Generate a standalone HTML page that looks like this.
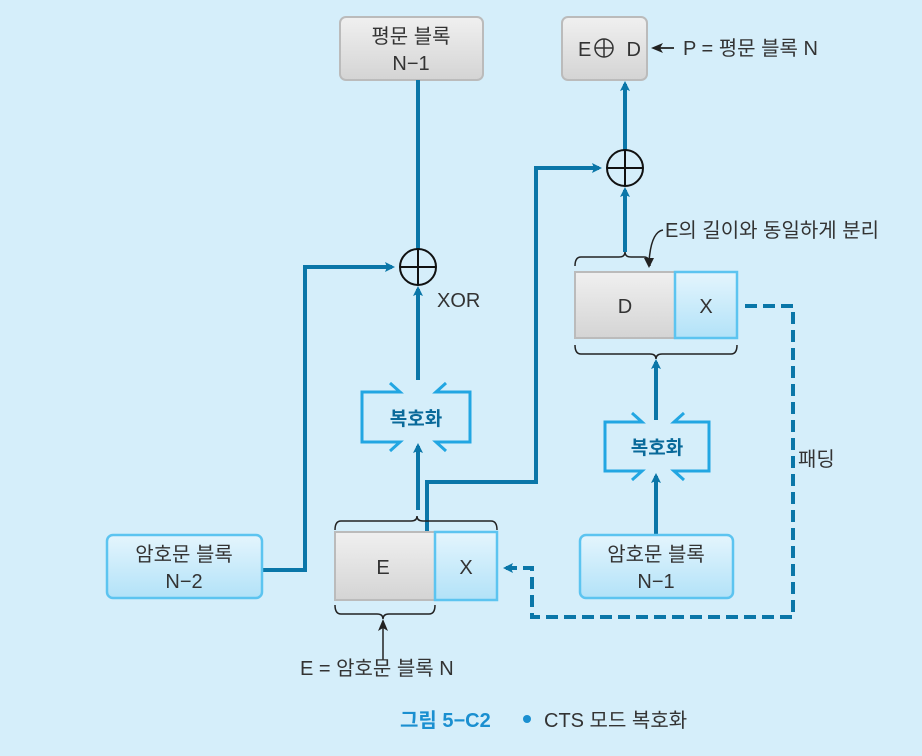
<!DOCTYPE html>
<html><head><meta charset="utf-8"><style>
body{margin:0;background:#d5eefa;}
svg{display:block;font-family:"Liberation Sans","Noto Sans CJK KR",sans-serif;}
</style></head><body>
<svg width="922" height="756" viewBox="0 0 922 756" xmlns="http://www.w3.org/2000/svg">
<defs>
<linearGradient id="g" x1="0" y1="0" x2="0" y2="1"><stop offset="0" stop-color="#f0f0f0"/><stop offset="1" stop-color="#d4d4d4"/></linearGradient>
<linearGradient id="b" x1="0" y1="0" x2="0" y2="1"><stop offset="0" stop-color="#e4f5fd"/><stop offset="1" stop-color="#b2e2f8"/></linearGradient>
<marker id="a" markerWidth="10" markerHeight="10" refX="7" refY="5" orient="auto" markerUnits="userSpaceOnUse"><path d="M0,0 L10,5 L0,10 L2,5z" fill="#0a76a8"/></marker>
<marker id="k" markerWidth="12" markerHeight="10" refX="9" refY="5" orient="auto" markerUnits="userSpaceOnUse"><path d="M0,0 L12,5 L0,10 L3,5z" fill="#222"/></marker>
</defs>
<rect width="922" height="756" fill="#d5eefa"/>
<rect x="340" y="17" width="143" height="63" rx="6" fill="url(#g)" stroke="#bbb" stroke-width="2"/>
<text x="411" y="43" font-size="20" text-anchor="middle" fill="#333">평문 블록</text>
<text x="411" y="70" font-size="20" text-anchor="middle" fill="#333">N−1</text>
<rect x="562" y="17" width="85" height="63" rx="6" fill="url(#g)" stroke="#bbb" stroke-width="2"/>
<text x="578" y="56" font-size="20" fill="#333">E</text>
<text x="641" y="56" font-size="20" text-anchor="end" fill="#333">D</text>
<g stroke="#333" stroke-width="1.5" fill="none"><circle cx="604" cy="48" r="9"/><line x1="595" y1="48" x2="613" y2="48"/><line x1="604" y1="39" x2="604" y2="57"/></g>
<line x1="674" y1="48" x2="654" y2="48" stroke="#222" stroke-width="1.8" marker-end="url(#k)"/>
<text x="683" y="55" font-size="20" fill="#333">P = 평문 블록 N</text>
<g stroke="#0a76a8" stroke-width="4" fill="none">
<line x1="418" y1="80" x2="418" y2="249"/>
<polyline points="262,570 305,570 305,267 392,267" marker-end="url(#a)"/>
<line x1="418" y1="380" x2="418" y2="289" marker-end="url(#a)"/>
<line x1="418" y1="510" x2="418" y2="446" marker-end="url(#a)"/>
<polyline points="427,532 427,482 536,482 536,168 599,168" marker-end="url(#a)"/>
<line x1="625" y1="150" x2="625" y2="84" marker-end="url(#a)"/>
<line x1="625" y1="252" x2="625" y2="190" marker-end="url(#a)"/>
<line x1="656" y1="420" x2="656" y2="362" marker-end="url(#a)"/>
<line x1="656" y1="535" x2="656" y2="476" marker-end="url(#a)"/>
<polyline points="745,306 793,306 793,617 532,617 532,568 506,568" stroke-dasharray="12,6" marker-end="url(#a)"/>
</g>
<g stroke="#111" stroke-width="2" fill="none">
<circle cx="418" cy="267" r="18"/><line x1="400" y1="267" x2="436" y2="267"/><line x1="418" y1="249" x2="418" y2="285"/>
<circle cx="625" cy="168" r="18"/><line x1="607" y1="168" x2="643" y2="168"/><line x1="625" y1="150" x2="625" y2="186"/>
</g>
<text x="437" y="307" font-size="20" fill="#333">XOR</text>
<g stroke="#22a6e2" stroke-width="3" fill="none">
<polyline points="390,383 400,392 362,392 362,442 400,442 390,451"/>
<polyline points="446,383 436,392 470,392 470,442 436,442 446,451"/>
<polyline points="632,413 642,422 605,422 605,471 642,471 632,480"/>
<polyline points="684,413 674,422 709,422 709,471 674,471 684,480"/>
</g>
<text x="416" y="425" font-size="19" font-weight="bold" text-anchor="middle" fill="#0a6a9a">복호화</text>
<text x="657" y="454" font-size="19" font-weight="bold" text-anchor="middle" fill="#0a6a9a">복호화</text>
<rect x="575" y="272" width="100" height="66" fill="url(#g)" stroke="#bbb" stroke-width="2"/>
<rect x="675" y="272" width="62" height="66" fill="url(#b)" stroke="#5cc4f0" stroke-width="2.5"/>
<text x="625" y="313" font-size="20" text-anchor="middle" fill="#333">D</text>
<text x="706" y="313" font-size="20" text-anchor="middle" fill="#333">X</text>
<rect x="335" y="532" width="100" height="68" fill="url(#g)" stroke="#bbb" stroke-width="2"/>
<rect x="435" y="532" width="62" height="68" fill="url(#b)" stroke="#5cc4f0" stroke-width="2.5"/>
<text x="383" y="574" font-size="20" text-anchor="middle" fill="#333">E</text>
<text x="466" y="574" font-size="20" text-anchor="middle" fill="#333">X</text>
<g stroke="#222" stroke-width="1.5" fill="none">
<path d="M575,266 q0,-9 6,-9 L619,257 q6,0 6,-5 q0,5 6,5 L644,257 q6,0 6,9"/>
<path d="M575,345 q0,9 6,9 L650,354 q6,0 6,5 q0,-5 6,-5 L731,354 q6,0 6,-9"/>
<path d="M335,530 q0,-9 6,-9 L411,521 q6,0 6,-5 q0,5 6,5 L491,521 q6,0 6,9"/>
<path d="M335,605 q0,9 6,9 L377,614 q6,0 6,5 q0,-5 6,-5 L429,614 q6,0 6,-9"/>
<path d="M663,230 q-12,2 -14,32"/>
</g>
<path d="M644,258 L649,268 L654,258z" fill="#222"/>
<line x1="383" y1="660" x2="383" y2="622" stroke="#222" stroke-width="1.5" marker-end="url(#k)"/>
<text x="665" y="237" font-size="20" fill="#333">E의 길이와 동일하게 분리</text>
<text x="798" y="466" font-size="20" fill="#333">패딩</text>
<rect x="107" y="535" width="155" height="63" rx="6" fill="url(#b)" stroke="#5cc4f0" stroke-width="2.5"/>
<text x="184" y="561" font-size="20" text-anchor="middle" fill="#333">암호문 블록</text>
<text x="184" y="588" font-size="20" text-anchor="middle" fill="#333">N−2</text>
<rect x="580" y="535" width="153" height="63" rx="6" fill="url(#b)" stroke="#5cc4f0" stroke-width="2.5"/>
<text x="656" y="561" font-size="20" text-anchor="middle" fill="#333">암호문 블록</text>
<text x="656" y="588" font-size="20" text-anchor="middle" fill="#333">N−1</text>
<text x="300" y="675" font-size="20" fill="#333">E = 암호문 블록 N</text>
<text x="400" y="727" font-size="20" font-weight="bold" fill="#1a8fd0">그림 5−C2</text>
<circle cx="527" cy="719" r="4" fill="#1a8fd0"/>
<text x="544" y="727" font-size="20" fill="#333">CTS 모드 복호화</text>
</svg>
</body></html>
